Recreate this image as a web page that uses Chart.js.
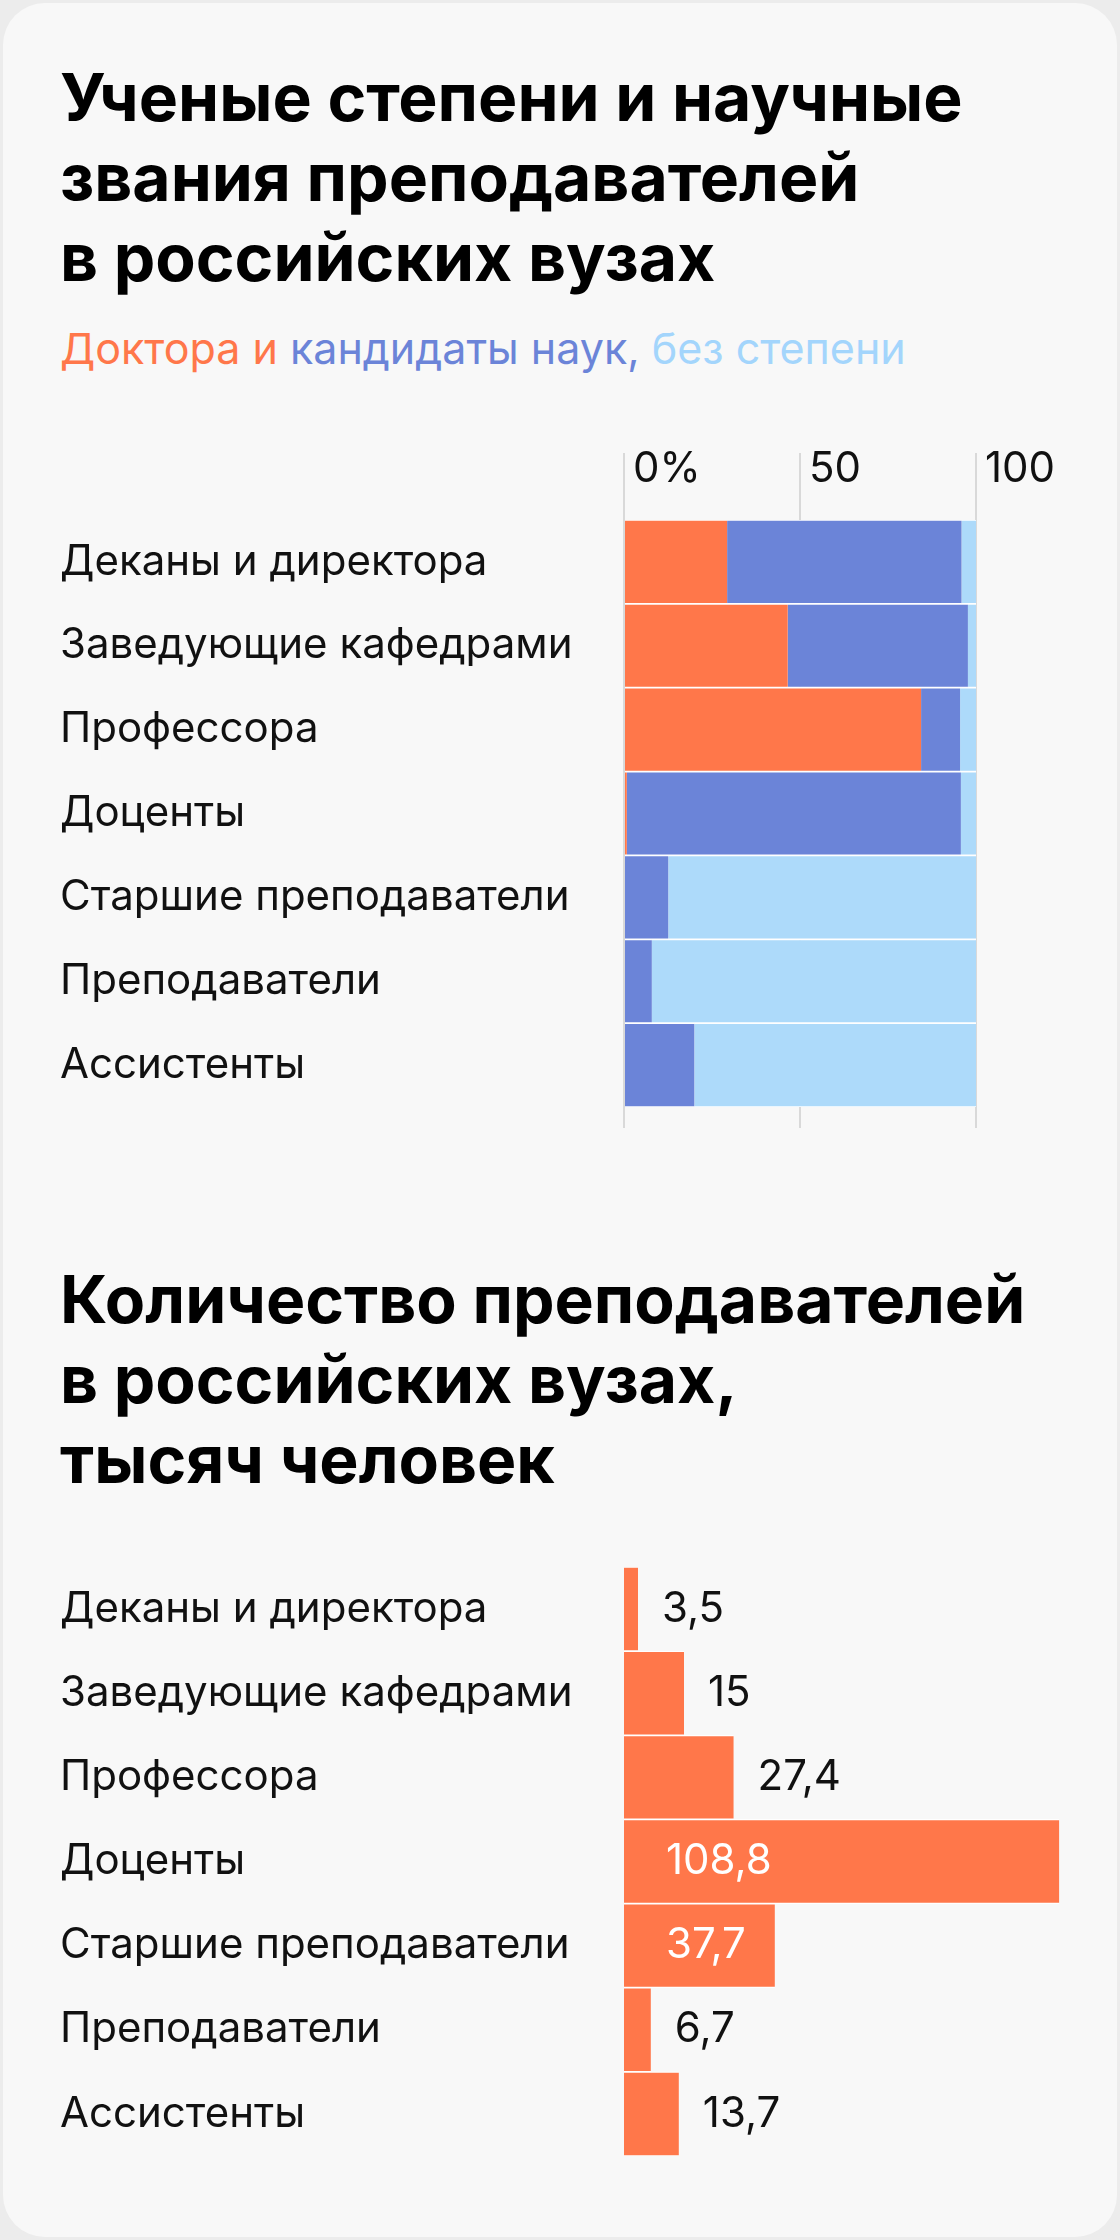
<!DOCTYPE html>
<html lang="ru">
<head>
<meta charset="utf-8">
<script src="https://cdn.jsdelivr.net/npm/chart.js@4.4.1/dist/chart.umd.min.js"></script>
<style>
  html, body { margin: 0; padding: 0; }
  body { width: 1120px; height: 2240px; background: #ececec; position: relative; overflow: hidden; font-family: Inter, "Noto Sans", sans-serif; }
  .card { position: absolute; left: 3px; top: 3px; width: 1114px; height: 2234px; background: #f8f8f8; border-radius: 42px; }
  .title { position: absolute; left: 60px; font-size: 66px; line-height: 80px; font-weight: 700; color: #000; letter-spacing: 0; }
  .sub { position: absolute; left: 60px; top: 322px; font-size: 43px; line-height: 52px; }
  canvas { position: absolute; left: 0; }
</style>
</head>
<body>
<div class="card"></div>
<div class="title" style="top:57px">Ученые степени и научные<br>звания преподавателей<br>в российских вузах</div>
<div class="sub"><span style="color:#ff774a">Доктора и</span> <span style="color:#6b84d8">кандидаты наук,</span> <span style="color:#a3d5fc">без степени</span></div>
<canvas id="degrees" width="1120" height="720" style="top:420px"></canvas>
<div class="title" style="top:1259px">Количество преподавателей<br>в российских вузах,<br>тысяч человек</div>
<canvas id="staff" width="1120" height="720" style="top:1467px"></canvas>
<script>
var categories = ['Деканы и директора', 'Заведующие кафедрами', 'Профессора', 'Доценты',
     'Старшие преподаватели', 'Преподаватели', 'Ассистенты'];
// доли, %
var doctors = [29.3, 46.5, 84.4, 0.8, 0, 0, 0];
var candidates = [66.6, 51.2, 11.1, 94.9, 12.6, 7.9, 20.0];
var noDegree = [4.1, 2.3, 4.5, 4.3, 87.4, 92.1, 80.0];
var pctTicks = [0, 50, 100];
var pctTickLabels = ['0%', '50', '100'];
// тысяч человек
var staff = [3.5, 15, 27.4, 108.8, 37.7, 6.7, 13.7];

var ORANGE = '#ff774a', BLUE = '#6b84d8', LIGHT = '#addafa';
var TEXT = '#111111';
var labelFont = { family: 'Inter', size: 42, weight: '400', lineHeight: 1 };
var gap = { top: 1.2, bottom: 1.2, left: 0, right: 0 };

function fixY(scale) {
     scale.width = 564;
     scale.paddingTop = 0;
     scale.paddingBottom = 0;
}

new Chart('degrees', {
     type: 'bar',
     data: {
          labels: categories,
          datasets: [
               { data: doctors, backgroundColor: ORANGE },
               { data: candidates, backgroundColor: BLUE },
               { data: noDegree, backgroundColor: LIGHT }
          ].map(function (d) {
               d.borderColor = '#ffffff';
               d.borderWidth = gap;
               d.borderSkipped = false;
               d.barPercentage = 1;
               d.categoryPercentage = 1;
               return d;
          })
     },
     options: {
          indexAxis: 'y',
          responsive: false,
          animation: false,
          devicePixelRatio: 1,
          layout: { padding: { left: 60, right: 144, top: 20, bottom: 3 } },
          plugins: { legend: { display: false }, tooltip: { enabled: false } },
          scales: {
               x: {
                    position: 'top',
                    stacked: true,
                    min: 0, max: 100,
                    afterBuildTicks: function (s) { s.ticks = pctTicks.map(function (v) { return { value: v }; }); },
                    afterFit: function (s) { s.height = 80; s.paddingLeft = 0; s.paddingRight = 0; },
                    border: { display: false },
                    grid: { color: '#d9d9d9', lineWidth: 2, tickLength: 67 },
                    ticks: {
                         align: 'start', labelOffset: 9, padding: -37,
                         color: TEXT, font: labelFont,
                         callback: function (v, i) { return pctTickLabels[i]; }
                    }
               },
               x2: {
                    axis: 'x',
                    position: 'bottom',
                    min: 0, max: 100,
                    afterBuildTicks: function (s) { s.ticks = pctTicks.map(function (v) { return { value: v }; }); },
                    afterFit: function (s) { s.height = 30; s.paddingLeft = 0; s.paddingRight = 0; },
                    border: { display: false },
                    grid: { color: '#d9d9d9', lineWidth: 2, tickLength: 21, drawOnChartArea: false },
                    ticks: { display: false }
               },
               y: {
                    stacked: true,
                    afterFit: fixY,
                    border: { display: false },
                    grid: { display: false },
                    ticks: { crossAlign: 'far', color: TEXT, font: labelFont, padding: 0 }
               }
          }
     }
});

var valueLabels = {
     id: 'valueLabels',
     afterDatasetsDraw: function (chart) {
          var ctx = chart.ctx;
          var meta = chart.getDatasetMeta(0);
          ctx.save();
          ctx.font = '400 42px Inter';
          ctx.textBaseline = 'middle';
          ctx.textAlign = 'left';
          meta.data.forEach(function (bar, i) {
               var v = staff[i];
               var txt = String(v).replace('.', ',');
               if (v > 30) {
                    ctx.fillStyle = '#ffffff';
                    ctx.fillText(txt, bar.base + 42, bar.y);
               } else {
                    ctx.fillStyle = TEXT;
                    ctx.fillText(txt, bar.x + 24, bar.y);
               }
          });
          ctx.restore();
     }
};

new Chart('staff', {
     type: 'bar',
     data: {
          labels: categories,
          datasets: [{
               data: staff,
               backgroundColor: ORANGE,
               borderColor: '#ffffff',
               borderWidth: gap,
               borderSkipped: false,
               barPercentage: 1,
               categoryPercentage: 1
          }]
     },
     options: {
          indexAxis: 'y',
          responsive: false,
          animation: false,
          devicePixelRatio: 1,
          layout: { padding: { left: 60, right: 56, top: 100, bottom: 31 } },
          plugins: { legend: { display: false }, tooltip: { enabled: false } },
          scales: {
               x: { display: false, min: 0, max: 110 },
               y: {
                    afterFit: fixY,
                    border: { display: false },
                    grid: { display: false },
                    ticks: { crossAlign: 'far', color: TEXT, font: labelFont, padding: 0 }
               }
          }
     },
     plugins: [valueLabels]
});
</script>
</body>
</html>
